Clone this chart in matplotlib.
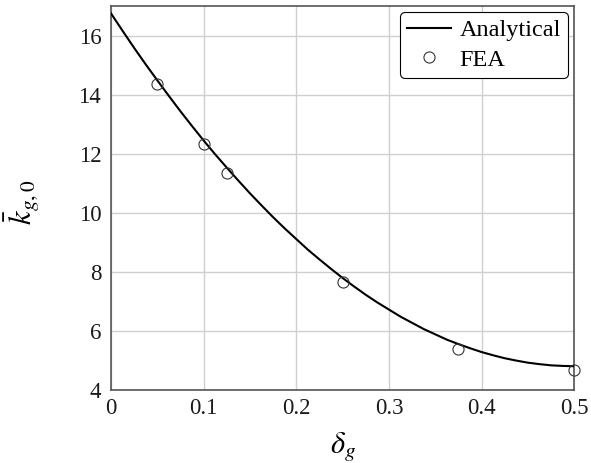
import matplotlib
matplotlib.use("Agg")
import matplotlib.pyplot as plt

# Analytical curve, sampled along delta_g
delta_analytical = [0.0, 0.0125, 0.025, 0.0375, 0.05, 0.0625, 0.075, 0.0875, 0.1, 0.1125,
                    0.125, 0.1375, 0.15, 0.1625, 0.175, 0.1875, 0.2, 0.2125, 0.225, 0.2375,
                    0.25, 0.2625, 0.275, 0.2875, 0.3, 0.3125, 0.325, 0.3375, 0.35, 0.3625,
                    0.375, 0.3875, 0.4, 0.4125, 0.425, 0.4375, 0.45, 0.4625, 0.475, 0.4875, 0.5]
k_analytical = [16.75, 16.16, 15.58, 15.02, 14.48, 13.95, 13.43, 12.93, 12.44, 11.97,
                11.52, 11.08, 10.65, 10.24, 9.84, 9.46, 9.10, 8.74, 8.41, 8.09,
                7.78, 7.49, 7.21, 6.95, 6.71, 6.47, 6.26, 6.05, 5.87, 5.69,
                5.54, 5.40, 5.27, 5.16, 5.06, 4.98, 4.91, 4.86, 4.82, 4.80, 4.79]

# Finite element results
delta_fea = [0.05, 0.1, 0.125, 0.25, 0.375, 0.5]
k_fea = [14.36, 12.31, 11.33, 7.64, 5.39, 4.66]

x_ticks = [0, 0.1, 0.2, 0.3, 0.4, 0.5]
x_ticklabels = ["0", "0.1", "0.2", "0.3", "0.4", "0.5"]
y_ticks = [4, 6, 8, 10, 12, 14, 16]

plt.rcParams["font.family"] = ["Liberation Serif", "DejaVu Serif"]
plt.rcParams["mathtext.fontset"] = "stix"

fig = plt.figure(figsize=(5.91, 4.63), dpi=100)
ax = fig.add_axes([0.1878, 0.1587, 0.9717 - 0.1878, 0.987 - 0.1587])

ax.plot(delta_analytical, k_analytical, color="black", lw=1.5, label="Analytical",
        zorder=3, solid_joinstyle="round")
ax.plot(delta_fea, k_fea, linestyle="none", marker="o", markersize=8,
        markerfacecolor="none", markeredgecolor="#333333", markeredgewidth=0.8,
        label="FEA", zorder=4, clip_on=False)

ax.set_xlim(0, 0.5)
ax.set_ylim(4, 17)
ax.set_xticks(x_ticks)
ax.set_xticklabels(x_ticklabels)
ax.set_yticks(y_ticks)

ax.grid(True, color="#cfcfcf", linewidth=1.0)
ax.set_axisbelow(True)
ax.tick_params(axis="both", length=0, labelsize=16.5, colors="#1a1a1a")
ax.tick_params(axis="x", pad=6)
ax.tick_params(axis="y", pad=7)
for s in ax.spines.values():
    s.set_color("#555555")
    s.set_linewidth(1.2)

ax.set_xlabel(r"$\delta_g$", fontsize=22, labelpad=8)
ax.set_ylabel(r"$\bar{k}_{g,0}$", fontsize=22)
ax.yaxis.set_label_coords(-0.148, 0.487)

leg = ax.legend(loc="upper right", fontsize=17.5, frameon=True, fancybox=True,
                edgecolor="black", framealpha=1.0, handlelength=1.8,
                borderpad=0.3, labelspacing=0.3, handletextpad=0.35,
                borderaxespad=0.25)
leg.get_frame().set_linewidth(0.8)

fig.savefig("out.png", dpi=100)
